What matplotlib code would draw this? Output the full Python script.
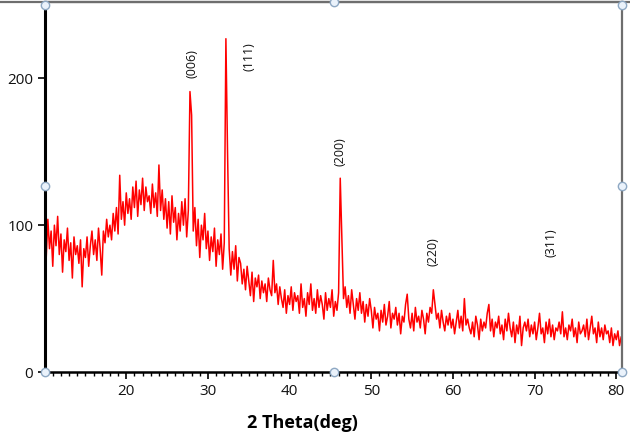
import numpy as np
import matplotlib
matplotlib.use("Agg")
import matplotlib.pyplot as plt
from matplotlib.lines import Line2D

# XRD intensity, 0.2 deg step from 10 deg (one row = one degree)
intensity_rows = [
    [92, 78, 104, 84, 96],      # 10
    [72, 100, 86, 106, 80],     # 11
    [94, 68, 90, 82, 98],       # 12
    [76, 88, 64, 92, 80],       # 13
    [86, 74, 90, 58, 84],       # 14
    [78, 92, 72, 86, 96],       # 15
    [80, 90, 76, 98, 84],       # 16
    [66, 96, 88, 104, 92],      # 17
    [100, 90, 108, 96, 112],    # 18
    [94, 134, 104, 116, 100],   # 19
    [122, 108, 118, 104, 126],  # 20
    [112, 130, 106, 124, 114],  # 21
    [132, 110, 126, 116, 120],  # 22
    [108, 128, 112, 122, 106],  # 23
    [141, 110, 124, 104, 118],  # 24
    [98, 116, 94, 120, 102],    # 25
    [112, 90, 108, 96, 116],    # 26
    [100, 118, 92, 110, 191],   # 27  (006)
    [175, 96, 112, 86, 104],    # 28
    [78, 100, 90, 108, 84],     # 29
    [96, 76, 92, 82, 98],       # 30
    [72, 90, 80, 94, 70],       # 31
    [88, 227, 150, 84, 66],     # 32  (111)
    [82, 70, 86, 62, 78],       # 33
    [74, 60, 70, 56, 72],       # 34
    [62, 52, 68, 48, 64],       # 35
    [58, 66, 50, 62, 54],       # 36
    [60, 48, 64, 56, 52],       # 37
    [76, 54, 60, 46, 58],       # 38
    [50, 44, 56, 40, 52],       # 39
    [46, 58, 42, 54, 48],       # 40
    [52, 40, 60, 44, 50],       # 41
    [38, 54, 46, 60, 42],       # 42
    [50, 40, 56, 44, 52],       # 43
    [46, 36, 54, 42, 50],       # 44
    [44, 56, 38, 48, 42],       # 45
    [54, 132, 92, 50, 58],      # 46  (200)
    [44, 52, 40, 56, 46],       # 47
    [36, 50, 42, 54, 40],       # 48
    [48, 34, 46, 38, 50],       # 49
    [42, 30, 44, 36, 40],       # 50
    [28, 42, 34, 46, 32],       # 51
    [38, 48, 30, 40, 36],       # 52
    [44, 32, 40, 26, 38],       # 53
    [34, 46, 53, 36, 30],       # 54
    [40, 28, 44, 34, 38],       # 55
    [30, 42, 36, 26, 40],       # 56
    [34, 44, 40, 56, 46],       # 57  (220)
    [36, 40, 30, 42, 34],       # 58
    [28, 38, 32, 40, 30],       # 59
    [36, 26, 34, 42, 30],       # 60
    [38, 28, 50, 32, 36],       # 61
    [30, 26, 34, 24, 38],       # 62
    [32, 22, 36, 28, 34],       # 63
    [30, 40, 46, 28, 36],       # 64
    [24, 34, 30, 38, 26],       # 65
    [32, 22, 36, 28, 40],       # 66
    [30, 24, 34, 20, 32],       # 67
    [26, 38, 18, 30, 34],       # 68
    [28, 36, 24, 32, 26],       # 69
    [34, 22, 30, 40, 26],       # 70
    [30, 20, 34, 26, 36],       # 71
    [24, 32, 22, 30, 28],       # 72
    [34, 26, 41, 24, 30],       # 73
    [22, 32, 28, 36, 24],       # 74
    [30, 20, 34, 26, 28],       # 75
    [32, 24, 36, 22, 30],       # 76
    [38, 26, 30, 20, 34],       # 77
    [24, 30, 22, 32, 26],       # 78
    [28, 20, 30, 18, 26],       # 79
    [22, 28, 18, 24, 20],       # 80
]
start_deg = 10
step_deg = 0.2

hkl_labels = ["(006)", "(111)", "(200)", "(220)", "(311)"]
label_x = [28.1, 35.0, 46.2, 57.6, 72.0]
label_y = [210, 215, 150, 82, 88]

intensity = np.array([v for row in intensity_rows for v in row], dtype=float)
two_theta = start_deg + step_deg * np.arange(len(intensity))

plt.rcParams["font.family"] = ["Open Sans", "DejaVu Sans"]

fig = plt.figure(figsize=(6.3, 4.43), dpi=100)
ax = fig.add_axes([45 / 630, (443 - 372) / 443, 577 / 630, 370 / 443])

ax.plot(two_theta, intensity, color="#ff0000", linewidth=1.1)

ax.set_xlim(10.05, 80.7)
ax.set_ylim(0, 252)
ax.set_xticks(range(20, 81, 10))
ax.set_xticks(range(11, 81, 1), minor=True)
ax.set_yticks([0, 100, 200])
ax.tick_params(axis="both", which="major", direction="out", length=5, width=1.2,
               labelsize=11, color="black", labelcolor="#111111")
ax.tick_params(axis="x", which="minor", direction="out", length=3, width=1)

for side in ("left", "bottom"):
    ax.spines[side].set_color("black")
ax.spines["left"].set_linewidth(2.2)
ax.spines["bottom"].set_linewidth(1.8)
for side in ("top", "right"):
    ax.spines[side].set_color("#6e6e6e")
    ax.spines[side].set_linewidth(1.6)

ax.set_xlabel("2 Theta(deg)", fontsize=13, fontweight="bold")
ax.xaxis.set_label_coords((302 - 45) / 577, -(423 - 372) / 370)
ax.xaxis.label.set_va("center")

for txt, lx, ly in zip(hkl_labels, label_x, label_y):
    ax.text(lx, ly, txt, rotation=90, ha="center", va="center", fontsize=9,
            color="#111111")

# grey frame line continuing across the top of the screenshot
fig.add_artist(Line2D([0, 1], [1 - 2 / 443, 1 - 2 / 443], color="#6e6e6e",
                      linewidth=1.6, transform=fig.transFigure))

# selection handles around the chart
handles_px = [(45, 5), (45, 186), (45, 372), (334, 2), (334, 372),
              (622, 5), (622, 186), (622, 372)]
for hx, hy in handles_px:
    fig.add_artist(Line2D([hx / 630], [1 - hy / 443], marker="o", markersize=6,
                          markerfacecolor="#eaf2fb", markeredgecolor="#8ea8c3",
                          markeredgewidth=1, transform=fig.transFigure))

fig.savefig("out.png", dpi=100)
